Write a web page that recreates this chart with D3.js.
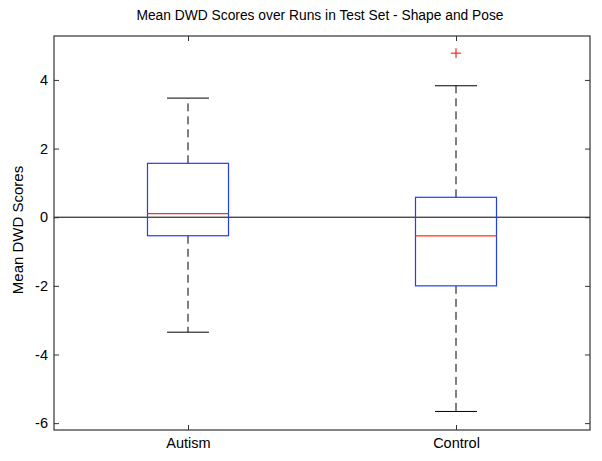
<!DOCTYPE html>
<html>
<head>
<meta charset="utf-8">
<script src="https://cdn.jsdelivr.net/npm/d3@7"></script>
<style>
body { margin: 0; background: #fff; }
text { font-family: "Liberation Sans", Arial, sans-serif; }
</style>
</head>
<body>
<svg id="chart" width="602" height="461"></svg>
<script>
var groups = ['Autism', 'Control']
var q1 = [-0.54, -2.0]
var medians = [0.105, -0.545]
var q3 = [1.57, 0.58]
var whiskLo = [-3.35, -5.66]
var whiskHi = [3.47, 3.83]
var outliers = [[], [4.78]]
var yTicks = [-6, -4, -2, 0, 2, 4]

var svg = d3.select('#chart')
// note: can't call it "top", window.top is read only
var pLeft = 54, pRight = 590, pTop = 36, pBottom = 430

var x = d3.scaleLinear().domain([0.5, 2.5]).range([pLeft, pRight])
var y = d3.scaleLinear().domain([-6.2, 5.28]).range([pBottom, pTop])

var data = groups.map(function(g, i){
	return {name: g, pos: i + 1, q1: q1[i], med: medians[i], q3: q3[i], lo: whiskLo[i], hi: whiskHi[i], out: outliers[i]}
})

// zero line
svg.append('line')
	.attr('x1', pLeft).attr('x2', pRight)
	.attr('y1', y(0)).attr('y2', y(0))
	.attr('stroke', '#000').attr('stroke-width', 1)

var boxW = 81, capW = 42
var g = svg.selectAll('g.box').data(data).enter().append('g').attr('class', 'box')

// dashed whiskers
g.append('line')
	.attr('x1', function(d){ return x(d.pos) }).attr('x2', function(d){ return x(d.pos) })
	.attr('y1', function(d){ return y(d.q3) }).attr('y2', function(d){ return y(d.hi) })
	.attr('stroke', '#000').attr('stroke-dasharray', '8,5')
g.append('line')
	.attr('x1', function(d){ return x(d.pos) }).attr('x2', function(d){ return x(d.pos) })
	.attr('y1', function(d){ return y(d.q1) }).attr('y2', function(d){ return y(d.lo) })
	.attr('stroke', '#000').attr('stroke-dasharray', '8,5')
// caps
;['hi', 'lo'].forEach(function(k){
	g.append('line')
		.attr('x1', function(d){ return x(d.pos) - capW / 2 }).attr('x2', function(d){ return x(d.pos) + capW / 2 })
		.attr('y1', function(d){ return y(d[k]) }).attr('y2', function(d){ return y(d[k]) })
		.attr('stroke', '#000')
})
// box
g.append('rect')
	.attr('x', function(d){ return x(d.pos) - boxW / 2 })
	.attr('width', boxW)
	.attr('y', function(d){ return y(d.q3) })
	.attr('height', function(d){ return y(d.q1) - y(d.q3) })
	.attr('fill', 'none').attr('stroke', '#2040f0').attr('stroke-width', 1.2)
// median
g.append('line')
	.attr('x1', function(d){ return x(d.pos) - boxW / 2 }).attr('x2', function(d){ return x(d.pos) + boxW / 2 })
	.attr('y1', function(d){ return y(d.med) }).attr('y2', function(d){ return y(d.med) })
	.attr('stroke', '#f83018').attr('stroke-width', 1.2)
// outliers
g.each(function(d){
	var sel = d3.select(this)
	d.out.forEach(function(v){
		sel.append('path')
			.attr('d', 'M' + (x(d.pos) - 5) + ',' + y(v) + 'h10M' + x(d.pos) + ',' + (y(v) - 5) + 'v10')
			.attr('stroke', '#f00').attr('fill', 'none')
	})
})

// axes frame
svg.append('rect')
	.attr('x', pLeft).attr('y', pTop).attr('width', pRight - pLeft).attr('height', pBottom - pTop)
	.attr('fill', 'none').attr('stroke', '#333').attr('stroke-width', 1.2)

var yAxisL = d3.axisLeft(y).tickValues(yTicks).tickSize(-5).tickPadding(6).tickFormat(function(d){ return String(d) })
var yAxisR = d3.axisRight(y).tickValues(yTicks).tickSize(-5).tickFormat('')
var xAxisB = d3.axisBottom(x).tickValues([1, 2]).tickSize(-5).tickPadding(8).tickFormat(function(d){ return groups[d - 1] })
var xAxisT = d3.axisTop(x).tickValues([1, 2]).tickSize(-5).tickFormat('')

function styleAxis(sel){
	sel.select('.domain').remove()
	sel.selectAll('line').attr('stroke', '#333')
	sel.selectAll('text').attr('font-size', 14.5).attr('fill', '#000')
	sel.attr('font-family', null)
}
svg.append('g').attr('transform', 'translate(' + pLeft + ',0)').call(yAxisL).call(styleAxis)
svg.append('g').attr('transform', 'translate(' + pRight + ',0)').call(yAxisR).call(styleAxis)
svg.append('g').attr('transform', 'translate(0,' + pBottom + ')').call(xAxisB).call(styleAxis)
svg.append('g').attr('transform', 'translate(0,' + pTop + ')').call(xAxisT).call(styleAxis)

svg.append('text')
	.attr('x', (pLeft + pRight) / 2 - 2).attr('y', 20)
	.attr('text-anchor', 'middle').attr('font-size', 13.8)
	.text('Mean DWD Scores over Runs in Test Set - Shape and Pose')

svg.append('text')
	.attr('transform', 'translate(23,230) rotate(-90)')
	.attr('text-anchor', 'middle').attr('font-size', 15)
	.text('Mean DWD Scores')
</script>
</body>
</html>
